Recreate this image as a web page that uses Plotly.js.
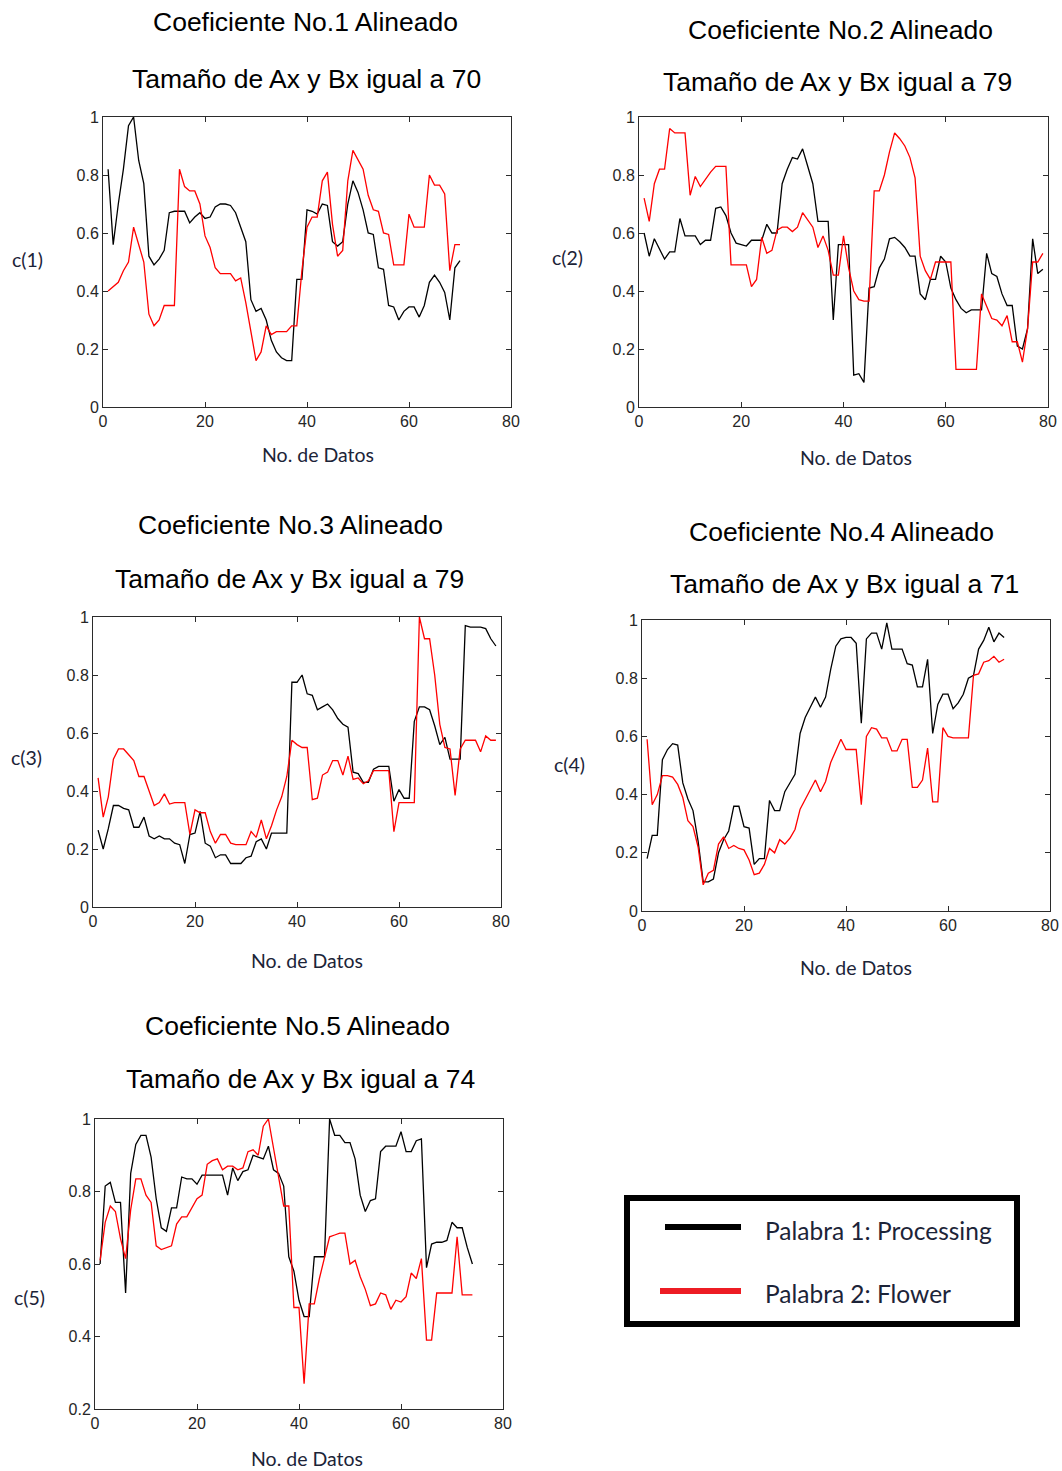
<!DOCTYPE html>
<html>
<head>
<meta charset="utf-8">
<script src="https://cdn.plot.ly/plotly-3.0.1.min.js"></script>
<style>
  html, body { margin: 0; padding: 0; background: #ffffff; }
  #chart { width: 1062px; height: 1471px; }
</style>
</head>
<body>
<div id="chart"></div>
<script>
// Aligned MFCC-style coefficient tracks for two spoken words
const seriesNames = ['Palabra 1: Processing', 'Palabra 2: Flower'];
const coefTitles = ['Coeficiente No.1 Alineado', 'Coeficiente No.2 Alineado', 'Coeficiente No.3 Alineado',
                    'Coeficiente No.4 Alineado', 'Coeficiente No.5 Alineado'];
const sizeTitles = ['Tamaño de Ax y Bx igual a 70', 'Tamaño de Ax y Bx igual a 79', 'Tamaño de Ax y Bx igual a 79',
                    'Tamaño de Ax y Bx igual a 71', 'Tamaño de Ax y Bx igual a 74'];
const yLabels = ['c(1)', 'c(2)', 'c(3)', 'c(4)', 'c(5)'];
const xLabel = 'No. de Datos';
const xTicks = [0, 20, 40, 60, 80];
const yTicks = [0, 0.2, 0.4, 0.6, 0.8, 1];
const yTicks5 = [0.2, 0.4, 0.6, 0.8, 1];

const c1Processing = [0.82,0.56,0.70,0.82,0.97,1.00,0.85,0.77,0.52,0.49,0.51,0.54,0.67,0.675,0.675,0.675,0.635,0.655,0.67,0.65,
  0.655,0.69,0.70,0.70,0.695,0.67,0.62,0.57,0.37,0.33,0.34,0.30,0.23,0.19,0.17,0.16,0.16,0.44,0.44,0.68,
  0.675,0.665,0.70,0.695,0.57,0.555,0.57,0.70,0.78,0.74,0.68,0.60,0.595,0.48,0.475,0.35,0.345,0.30,0.33,0.345,
  0.345,0.31,0.35,0.43,0.455,0.43,0.395,0.30,0.48,0.505];
const c1Flower = [0.40,0.415,0.43,0.47,0.50,0.62,0.56,0.50,0.32,0.28,0.30,0.35,0.35,0.35,0.82,0.76,0.745,0.745,0.70,0.59,
  0.55,0.48,0.46,0.46,0.46,0.435,0.445,0.36,0.26,0.16,0.19,0.28,0.25,0.26,0.26,0.26,0.28,0.28,0.47,0.62,
  0.655,0.655,0.78,0.81,0.63,0.52,0.54,0.78,0.885,0.85,0.82,0.73,0.68,0.675,0.60,0.595,0.49,0.49,0.49,0.665,
  0.62,0.62,0.62,0.80,0.765,0.765,0.735,0.47,0.56,0.56];

const c2Processing = [0.60,0.52,0.58,0.545,0.51,0.535,0.535,0.65,0.59,0.59,0.59,0.56,0.575,0.575,0.685,0.69,0.66,0.60,0.565,0.56,
  0.555,0.575,0.575,0.575,0.63,0.60,0.60,0.77,0.82,0.86,0.855,0.89,0.83,0.77,0.64,0.64,0.64,0.30,0.56,0.56,
  0.56,0.11,0.115,0.085,0.41,0.415,0.48,0.51,0.58,0.585,0.57,0.55,0.52,0.52,0.39,0.37,0.44,0.44,0.52,0.50,
  0.41,0.37,0.34,0.325,0.335,0.335,0.335,0.53,0.46,0.45,0.39,0.35,0.35,0.21,0.20,0.27,0.58,0.46,0.475];
const c2Flower = [0.72,0.64,0.77,0.82,0.82,0.96,0.945,0.945,0.945,0.73,0.795,0.76,0.785,0.81,0.83,0.83,0.83,0.49,0.49,0.49,
  0.49,0.415,0.44,0.585,0.53,0.54,0.61,0.62,0.62,0.605,0.62,0.67,0.645,0.62,0.55,0.59,0.54,0.455,0.455,0.59,
  0.48,0.40,0.37,0.365,0.365,0.745,0.745,0.80,0.88,0.945,0.925,0.90,0.86,0.79,0.52,0.47,0.44,0.50,0.50,0.50,
  0.50,0.13,0.13,0.13,0.13,0.13,0.39,0.35,0.305,0.30,0.28,0.315,0.225,0.225,0.155,0.27,0.50,0.50,0.53];

const c3Processing = [0.265,0.20,0.27,0.35,0.35,0.34,0.335,0.275,0.275,0.31,0.245,0.235,0.245,0.235,0.235,0.22,0.215,0.15,0.25,0.255,
  0.33,0.22,0.21,0.17,0.18,0.18,0.15,0.15,0.15,0.17,0.175,0.225,0.235,0.20,0.255,0.255,0.255,0.255,0.775,0.775,
  0.80,0.735,0.73,0.68,0.69,0.70,0.68,0.65,0.63,0.62,0.465,0.46,0.43,0.43,0.475,0.485,0.485,0.485,0.365,0.405,
  0.375,0.375,0.64,0.69,0.69,0.68,0.625,0.56,0.585,0.51,0.51,0.51,0.97,0.965,0.965,0.965,0.96,0.925,0.90];
const c3Flower = [0.445,0.31,0.38,0.51,0.545,0.545,0.525,0.505,0.45,0.45,0.40,0.35,0.36,0.39,0.355,0.36,0.36,0.36,0.25,0.335,
  0.325,0.325,0.26,0.22,0.25,0.25,0.22,0.215,0.215,0.215,0.26,0.24,0.30,0.235,0.28,0.335,0.38,0.45,0.575,0.56,
  0.55,0.55,0.37,0.375,0.455,0.465,0.505,0.505,0.455,0.52,0.44,0.445,0.425,0.435,0.47,0.47,0.47,0.47,0.26,0.36,
  0.36,0.36,0.36,1.0,0.925,0.925,0.80,0.63,0.55,0.545,0.385,0.545,0.575,0.575,0.575,0.535,0.59,0.575,0.575];

const c4Processing = [0.18,0.26,0.26,0.52,0.555,0.575,0.57,0.44,0.385,0.345,0.24,0.10,0.10,0.11,0.20,0.245,0.275,0.36,0.36,0.29,
  0.285,0.16,0.18,0.18,0.38,0.345,0.345,0.41,0.44,0.47,0.61,0.665,0.70,0.735,0.70,0.735,0.83,0.91,0.935,0.94,
  0.94,0.92,0.645,0.935,0.955,0.955,0.90,0.99,0.90,0.90,0.90,0.85,0.845,0.77,0.77,0.865,0.61,0.71,0.745,0.745,
  0.695,0.715,0.745,0.80,0.81,0.90,0.93,0.975,0.925,0.955,0.94];
const c4Flower = [0.59,0.365,0.40,0.465,0.465,0.46,0.435,0.39,0.31,0.29,0.22,0.09,0.13,0.14,0.23,0.255,0.215,0.225,0.215,0.21,
  0.175,0.125,0.13,0.16,0.215,0.20,0.245,0.23,0.25,0.28,0.35,0.385,0.42,0.45,0.41,0.445,0.51,0.55,0.59,0.555,
  0.555,0.555,0.365,0.60,0.63,0.625,0.595,0.595,0.55,0.55,0.59,0.59,0.425,0.425,0.45,0.56,0.375,0.375,0.63,0.60,
  0.595,0.595,0.595,0.595,0.81,0.815,0.855,0.86,0.875,0.855,0.865];

const c5Processing = [0.60,0.815,0.825,0.77,0.77,0.52,0.85,0.93,0.955,0.955,0.895,0.78,0.70,0.69,0.755,0.755,0.84,0.835,0.835,0.82,
  0.845,0.845,0.845,0.845,0.845,0.79,0.865,0.83,0.855,0.86,0.90,0.895,0.89,0.925,0.86,0.85,0.815,0.62,0.58,0.50,
  0.455,0.455,0.62,0.62,0.62,1.0,0.955,0.955,0.935,0.935,0.89,0.79,0.745,0.775,0.78,0.91,0.925,0.925,0.925,0.965,
  0.91,0.91,0.94,0.945,0.59,0.655,0.66,0.66,0.665,0.715,0.70,0.70,0.645,0.60];
const c5Flower = [0.61,0.715,0.76,0.745,0.67,0.615,0.75,0.835,0.835,0.79,0.77,0.65,0.64,0.645,0.65,0.71,0.73,0.73,0.755,0.78,
  0.79,0.875,0.885,0.89,0.86,0.87,0.87,0.86,0.865,0.91,0.915,0.90,0.98,1.0,0.92,0.845,0.76,0.76,0.48,0.48,
  0.27,0.49,0.49,0.56,0.62,0.675,0.68,0.685,0.685,0.60,0.61,0.565,0.53,0.485,0.49,0.52,0.515,0.475,0.50,0.495,
  0.51,0.575,0.56,0.615,0.39,0.39,0.52,0.52,0.52,0.52,0.675,0.515,0.515,0.515];

const processing = [c1Processing, c2Processing, c3Processing, c4Processing, c5Processing];
const flower = [c1Flower, c2Flower, c3Flower, c4Flower, c5Flower];

// ---- page geometry (pixels) ----
const W = 1062, H = 1471;
const fx = p => p / W;
const fy = p => 1 - p / H;

const panels = [
  { l: 103, r: 511,  t: 117, b: 407, title: [305, 22, 306, 79],  xl: [318, 454], yl: [27, 260] },
  { l: 639, r: 1048, t: 117, b: 407, title: [840, 30, 837, 82],  xl: [856, 457], yl: [567, 257] },
  { l: 93,  r: 501,  t: 617, b: 907, title: [291, 525, 289, 579], xl: [307, 960], yl: [26, 757] },
  { l: 642, r: 1050, t: 620, b: 911, title: [841, 532, 844, 584], xl: [856, 967], yl: [569, 764] },
  { l: 95,  r: 503,  t: 1119, b: 1409, title: [297, 1026, 300, 1079], xl: [307, 1458], yl: [29, 1297] }
];

const tickFont = { family: 'Liberation Sans Narrow, Liberation Sans, Arial, sans-serif', size: 16, color: '#262626' };
const titleFont = { family: 'Liberation Sans, Arial, sans-serif', size: 26.5, color: '#000000' };
const labelFont = { family: 'Lato, Noto Sans, sans-serif', size: 19.5, color: '#1c2438' };
const frameColor = '#2b2b2b';

const traces = [];
const layout = {
  width: W, height: H,
  margin: { l: 0, r: 0, t: 0, b: 0 },
  paper_bgcolor: '#ffffff',
  plot_bgcolor: '#ffffff',
  showlegend: false,
  annotations: [],
  shapes: []
};

panels.forEach((p, i) => {
  const n = i + 1;
  const xa = 'x' + (n === 1 ? '' : n);
  const ya = 'y' + (n === 1 ? '' : n);
  const xs = processing[i].map((_, k) => k + 1);
  const xsF = flower[i].map((_, k) => k + 1);
  traces.push({ x: xs, y: processing[i], xaxis: xa, yaxis: ya, type: 'scatter', mode: 'lines',
                name: seriesNames[0], line: { color: '#000000', width: 1.3 } });
  traces.push({ x: xsF, y: flower[i], xaxis: xa, yaxis: ya, type: 'scatter', mode: 'lines',
                name: seriesNames[1], line: { color: '#ff0000', width: 1.3 } });

  const yt = (i === 4) ? yTicks5 : yTicks;
  const axisCommon = {
    showgrid: false, zeroline: false, showline: true, linecolor: frameColor, linewidth: 1,
    mirror: 'ticks', ticks: 'inside', ticklen: 5, tickcolor: frameColor, tickwidth: 1,
    tickfont: tickFont, fixedrange: true
  };
  layout['xaxis' + (n === 1 ? '' : n)] = Object.assign({}, axisCommon, {
    domain: [fx(p.l), fx(p.r)], anchor: ya, range: [0, 80],
    tickmode: 'array', tickvals: xTicks, ticktext: xTicks.map(String), ticklabelstandoff: 0
  });
  layout['yaxis' + (n === 1 ? '' : n)] = Object.assign({}, axisCommon, {
    domain: [fy(p.b), fy(p.t)], anchor: xa, range: [yt[0], 1],
    tickmode: 'array', tickvals: yt, ticktext: yt.map(v => String(v)), ticklabelstandoff: 0
  });

  // two-line title
  layout.annotations.push({ xref: 'paper', yref: 'paper', x: fx(p.title[0]), y: fy(p.title[1]),
    xanchor: 'center', yanchor: 'middle', showarrow: false, text: coefTitles[i], font: titleFont });
  layout.annotations.push({ xref: 'paper', yref: 'paper', x: fx(p.title[2]), y: fy(p.title[3]),
    xanchor: 'center', yanchor: 'middle', showarrow: false, text: sizeTitles[i], font: titleFont });
  // axis labels
  layout.annotations.push({ xref: 'paper', yref: 'paper', x: fx(p.xl[0]), y: fy(p.xl[1]),
    xanchor: 'center', yanchor: 'middle', showarrow: false, text: xLabel, font: labelFont });
  layout.annotations.push({ xref: 'paper', yref: 'paper', x: fx(p.yl[0]), y: fy(p.yl[1]),
    xanchor: 'center', yanchor: 'middle', showarrow: false, text: yLabels[i], font: labelFont });
});

// boxed key for the two words
layout.shapes.push({ type: 'rect', xref: 'paper', yref: 'paper',
  x0: fx(627), x1: fx(1017), y0: fy(1324), y1: fy(1198),
  line: { color: '#000000', width: 6 }, fillcolor: 'rgba(0,0,0,0)' });
const keyRows = [
  { color: '#000000', x0: 665, x1: 741, y: 1227, ty: 1230 },
  { color: '#ed1c24', x0: 660, x1: 741, y: 1291, ty: 1293 }
];
keyRows.forEach((k, j) => {
  layout.shapes.push({ type: 'line', xref: 'paper', yref: 'paper',
    x0: fx(k.x0), x1: fx(k.x1), y0: fy(k.y), y1: fy(k.y),
    line: { color: k.color, width: 6 } });
  layout.annotations.push({ xref: 'paper', yref: 'paper', x: fx(763), y: fy(k.ty),
    xanchor: 'left', yanchor: 'middle', showarrow: false, text: seriesNames[j],
    font: { family: 'Lato, Noto Sans, sans-serif', size: 24.5, color: '#1c2438' } });
});

Plotly.newPlot('chart', traces, layout, { staticPlot: true, displayModeBar: false });
</script>
</body>
</html>
